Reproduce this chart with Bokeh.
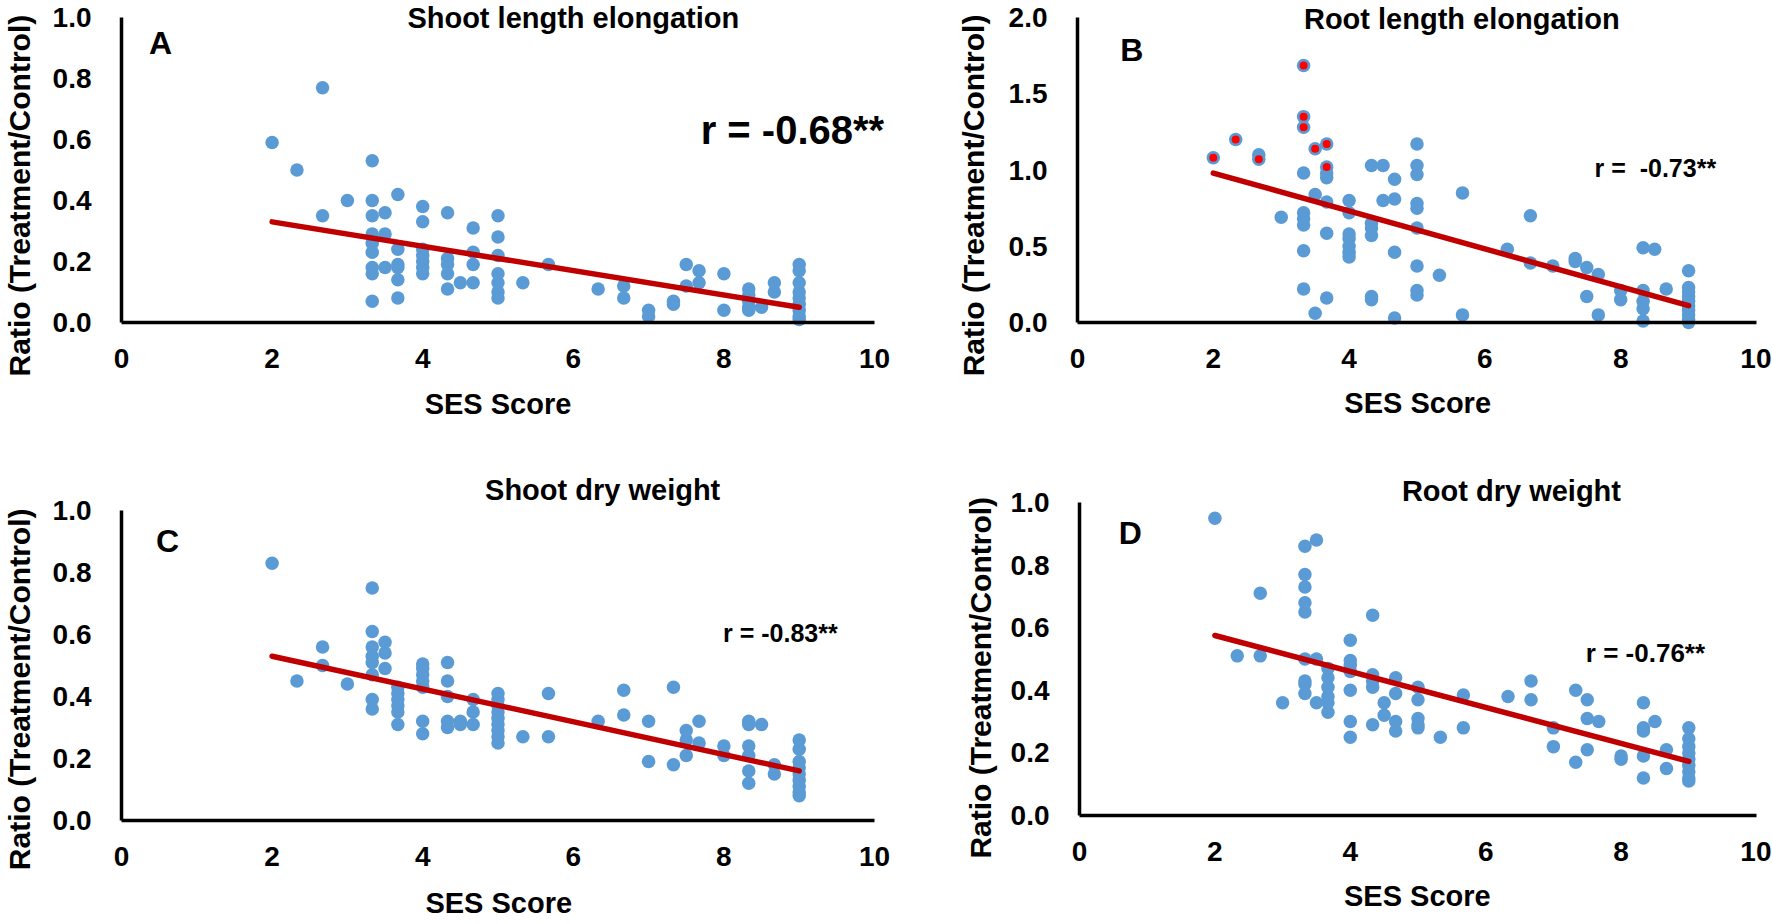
import math
from bokeh.plotting import figure
from bokeh.models import Range1d, FixedTicker, PrintfTickFormatter, Label
from bokeh.layouts import column, row
from bokeh.embed import file_html
from bokeh.resources import INLINE

# ---------------- data ----------------
x_ticks = [0, 2, 4, 6, 8, 10]
y_ticks_1 = [0.0, 0.2, 0.4, 0.6, 0.8, 1.0]
y_ticks_2 = [0.0, 0.5, 1.0, 1.5, 2.0]

# A: Shoot length elongation
a_x = [2, 2.33, 2.67, 2.67, 3,
       3.33, 3.33, 3.33, 3.33, 3.33, 3.33, 3.33, 3.33, 3.33,
       3.5, 3.5, 3.5,
       3.67, 3.67, 3.67, 3.67, 3.67, 3.67,
       4, 4, 4, 4, 4, 4, 4,
       4.33, 4.33, 4.33, 4.33, 4.33,
       4.5,
       4.67, 4.67, 4.67, 4.67,
       5, 5, 5, 5, 5, 5, 5,
       5.33, 5.67, 6.33, 6.67, 6.67, 7, 7, 7.33, 7.33, 7.5, 7.5, 7.67, 7.67, 8, 8,
       8.33, 8.33, 8.33, 8.33, 8.33, 8.5, 8.67, 8.67,
       9, 9, 9, 9, 9, 9, 9, 9, 9]
a_y = [0.59, 0.50, 0.77, 0.35, 0.40,
       0.53, 0.40, 0.35, 0.29, 0.26, 0.23, 0.18, 0.16, 0.07,
       0.36, 0.29, 0.18,
       0.42, 0.24, 0.19, 0.18, 0.14, 0.08,
       0.38, 0.33, 0.24, 0.22, 0.20, 0.18, 0.16,
       0.36, 0.21, 0.19, 0.16, 0.11,
       0.13,
       0.31, 0.23, 0.19, 0.13,
       0.35, 0.28, 0.22, 0.16, 0.13, 0.10, 0.08,
       0.13, 0.19, 0.11, 0.12, 0.08, 0.04, 0.02, 0.07, 0.06, 0.19, 0.12, 0.17, 0.13, 0.16, 0.04,
       0.11, 0.09, 0.07, 0.05, 0.04, 0.05, 0.13, 0.10,
       0.19, 0.17, 0.13, 0.10, 0.08, 0.06, 0.04, 0.02, 0.01]

# B: Root length elongation
b_x = [2, 2.33, 2.67, 2.67, 3,
       3.33, 3.33, 3.33, 3.33, 3.33, 3.33, 3.33, 3.33, 3.33,
       3.5, 3.5, 3.5,
       3.67, 3.67, 3.67, 3.67, 3.67, 3.67, 3.67,
       4, 4, 4, 4, 4, 4, 4,
       4.33, 4.33, 4.33, 4.33, 4.33, 4.33,
       4.5, 4.5,
       4.67, 4.67, 4.67, 4.67,
       5, 5, 5, 5, 5, 5, 5, 5, 5,
       5.33, 5.67, 5.67, 6.33, 6.67, 6.67, 7, 7.33, 7.33, 7.5, 7.5, 7.67, 7.67, 8, 8,
       8.33, 8.33, 8.33, 8.33, 8.33, 8.5, 8.67,
       9, 9, 9, 9, 9, 9, 9, 9, 9, 9]
b_y = [1.08, 1.20, 1.10, 1.07, 0.69,
       1.685, 1.35, 1.28, 0.98, 0.72, 0.68, 0.64, 0.47, 0.22,
       1.14, 0.84, 0.06,
       1.17, 1.02, 0.98, 0.95, 0.79, 0.585, 0.16,
       0.80, 0.72, 0.58, 0.55, 0.50, 0.46, 0.43,
       1.03, 0.65, 0.62, 0.57, 0.17, 0.15,
       1.03, 0.80,
       0.94, 0.81, 0.46, 0.03,
       1.17, 1.03, 0.97, 0.78, 0.75, 0.62, 0.37, 0.21, 0.18,
       0.31, 0.85, 0.05, 0.48, 0.70, 0.39, 0.37, 0.42, 0.40, 0.36, 0.17, 0.315, 0.05, 0.21, 0.15,
       0.49, 0.21, 0.14, 0.09, 0.01, 0.48, 0.22,
       0.34, 0.23, 0.20, 0.17, 0.14, 0.11, 0.08, 0.05, 0.02, 0.0]
# highlighted (red-centred) genotypes in B
b_red_x = [2, 2.33, 2.67, 3.33, 3.33, 3.33, 3.5, 3.67, 3.67]
b_red_y = [1.08, 1.20, 1.07, 1.685, 1.35, 1.28, 1.14, 1.17, 1.02]

# C: Shoot dry weight
c_x = [2, 2.33, 2.67, 2.67, 3,
       3.33, 3.33, 3.33, 3.33, 3.33, 3.33, 3.33, 3.33,
       3.5, 3.5, 3.5,
       3.67, 3.67, 3.67, 3.67, 3.67, 3.67,
       4, 4, 4, 4, 4, 4, 4,
       4.33, 4.33, 4.33, 4.33, 4.33,
       4.5, 4.5,
       4.67, 4.67, 4.67,
       5, 5, 5, 5, 5, 5, 5, 5, 5,
       5.33, 5.67, 5.67, 6.33, 6.67, 6.67, 7, 7, 7.33, 7.33, 7.5, 7.5, 7.5, 7.67, 7.67, 8, 8,
       8.33, 8.33, 8.33, 8.33, 8.33, 8.33, 8.5, 8.67, 8.67,
       9, 9, 9, 9, 9, 9, 9, 9, 9]
c_y = [0.83, 0.45, 0.56, 0.50, 0.44,
       0.75, 0.61, 0.56, 0.53, 0.51, 0.47, 0.39, 0.36,
       0.575, 0.54, 0.49,
       0.43, 0.41, 0.39, 0.37, 0.35, 0.31,
       0.505, 0.49, 0.47, 0.45, 0.43, 0.32, 0.28,
       0.51, 0.45, 0.40, 0.32, 0.30,
       0.32, 0.31,
       0.39, 0.35, 0.31,
       0.41, 0.39, 0.37, 0.35, 0.33, 0.31, 0.29, 0.27, 0.25,
       0.27, 0.41, 0.27, 0.32, 0.42, 0.34, 0.32, 0.19, 0.43, 0.18, 0.29, 0.26, 0.21, 0.32, 0.25, 0.24, 0.21,
       0.32, 0.31, 0.24, 0.21, 0.16, 0.12, 0.31, 0.18, 0.15,
       0.26, 0.23, 0.19, 0.17, 0.15, 0.13, 0.11, 0.09, 0.08]

# D: Root dry weight
d_x = [2, 2.33, 2.67, 2.67, 3,
       3.33, 3.33, 3.33, 3.33, 3.33, 3.33, 3.33, 3.33, 3.33,
       3.5, 3.5, 3.5,
       3.67, 3.67, 3.67, 3.67, 3.67, 3.67,
       4, 4, 4, 4, 4, 4, 4,
       4.33, 4.33, 4.33, 4.33, 4.33,
       4.5, 4.5,
       4.67, 4.67, 4.67, 4.67,
       5, 5, 5, 5, 5,
       5.33, 5.67, 5.67, 6.33, 6.67, 6.67, 7, 7, 7.33, 7.33, 7.5, 7.5, 7.5, 7.67, 8, 8,
       8.33, 8.33, 8.33, 8.33, 8.33, 8.5, 8.67, 8.67,
       9, 9, 9, 9, 9, 9, 9, 9, 9]
d_y = [0.95, 0.51, 0.71, 0.51, 0.36,
       0.86, 0.77, 0.73, 0.68, 0.65, 0.50, 0.43, 0.42, 0.39,
       0.88, 0.50, 0.36,
       0.47, 0.44, 0.41, 0.38, 0.36, 0.33,
       0.56, 0.495, 0.48, 0.46, 0.40, 0.30, 0.25,
       0.64, 0.45, 0.43, 0.41, 0.29,
       0.36, 0.32,
       0.44, 0.39, 0.30, 0.27,
       0.41, 0.37, 0.31, 0.29, 0.28,
       0.25, 0.385, 0.28, 0.38, 0.43, 0.37, 0.28, 0.22, 0.40, 0.17, 0.37, 0.31, 0.21, 0.30, 0.19, 0.18,
       0.36, 0.28, 0.27, 0.19, 0.12, 0.30, 0.21, 0.15,
       0.28, 0.245, 0.22, 0.20, 0.18, 0.16, 0.14, 0.12, 0.11]

# trend lines (end points)
trend_x = [2, 9]
a_trend = [0.33, 0.05]
b_trend = [0.98, 0.11]
c_trend = [0.53, 0.16]
d_trend = [0.575, 0.173]

assert len(a_x) == len(a_y) and len(b_x) == len(b_y)
assert len(c_x) == len(c_y) and len(d_x) == len(d_y)

# ---------------- styling ----------------
FONT = "Liberation Sans"
BLUE = "#5B9BD5"
DARKRED = "#C00000"
YTITLE = "Ratio (Treatment/Control)"


def text(p, x, y, s, size, angle=0.0):
    p.add_layout(Label(x=x, y=y, text=s, text_font=FONT, text_font_size=size,
                       text_font_style="bold", text_color="black",
                       text_align="center", text_baseline="middle", angle=angle))


def panel(xs, ys, trend, ymax, yticks, geom, texts):
    # geom: canvas w, h; pixel of x=0, pixels per x unit; pixel (from top) of y=0, pixels per y unit
    w, h, x0px, xunit, y0px, yunit = geom
    xr = Range1d(-x0px / xunit, (w - x0px) / xunit)
    yr = Range1d(-(h - y0px) / yunit, y0px / yunit)
    p = figure(width=w, height=h, x_range=xr, y_range=yr,
               output_backend="svg", toolbar_location=None, title=None,
               min_border_left=0, min_border_right=0, min_border_top=0, min_border_bottom=0)
    p.outline_line_color = None
    p.xgrid.visible = False
    p.ygrid.visible = False
    p.background_fill_color = "white"
    p.border_fill_color = "white"

    for ax in (p.xaxis[0], p.yaxis[0]):
        ax.fixed_location = 0
        ax.axis_line_color = "black"
        ax.axis_line_width = 3.5
        ax.major_tick_line_color = None
        ax.minor_tick_line_color = None
        ax.major_label_text_font = FONT
        ax.major_label_text_font_size = "28px"
        ax.major_label_text_font_style = "bold"
        ax.major_label_text_color = "black"
    p.xaxis.bounds = (0, 10)
    p.yaxis.bounds = (0, ymax)
    p.xaxis.ticker = FixedTicker(ticks=x_ticks)
    p.yaxis.ticker = FixedTicker(ticks=yticks)
    p.yaxis.formatter = PrintfTickFormatter(format="%.1f")
    p.xaxis.major_label_standoff = 20
    p.yaxis.major_label_standoff = 24

    p.scatter(xs, ys, size=13.5, fill_color=BLUE, line_color=None)
    p.line(trend_x, trend, line_color=DARKRED, line_width=5.5, line_cap="round")

    title, letter, rtext, rsize, (tx, ty), (lx, ly), (rx, ry), (yx, yy), (sx, sy) = texts
    text(p, tx, ty, title, "29px")
    text(p, lx, ly, letter, "32px")
    text(p, rx, ry, rtext, rsize)
    text(p, yx, yy, YTITLE, "30px", angle=math.pi / 2)
    text(p, sx, sy, "SES Score", "29px")
    return p


pA = panel(a_x, a_y, a_trend, 1.0, y_ticks_1, (948, 442, 121, 75.3, 322, 305),
           ("Shoot length elongation", "A", "r = -0.68**", "40px",
            (6.0, 1.0), (0.52, 0.915), (8.91, 0.63), (-1.355, 0.416), (5.0, -0.266)))
pB = panel(b_x, b_y, b_trend, 2.0, y_ticks_2, (823, 442, 129, 67.9, 322, 152.5),
           ("Root length elongation", "B", "r =\u00a0 -0.73**", "25px",
            (5.66, 1.99), (0.80, 1.79), (8.51, 1.01), (-1.53, 0.833), (5.01, -0.531)))
pB.scatter(b_red_x, b_red_y, size=8, fill_color="#FF0000", line_color=None)
pC = panel(c_x, c_y, c_trend, 1.0, y_ticks_1, (948, 481, 121, 75.3, 378, 310),
           ("Shoot dry weight", "C", "r = -0.83**", "25px",
            (6.39, 1.065), (0.61, 0.903), (8.75, 0.606), (-1.355, 0.423), (5.01, -0.265)))
pD = panel(d_x, d_y, d_trend, 1.0, y_ticks_1, (823, 481, 131, 67.7, 373, 313),
           ("Root dry weight", "D", "r = -0.76**", "26px",
            (6.38, 1.038), (0.75, 0.904), (8.36, 0.52), (-1.46, 0.44), (4.99, -0.256)))

layout = column(row(pA, pB), row(pC, pD))
open("out.html", "w").write(file_html(layout, INLINE, "SES score correlations"))
